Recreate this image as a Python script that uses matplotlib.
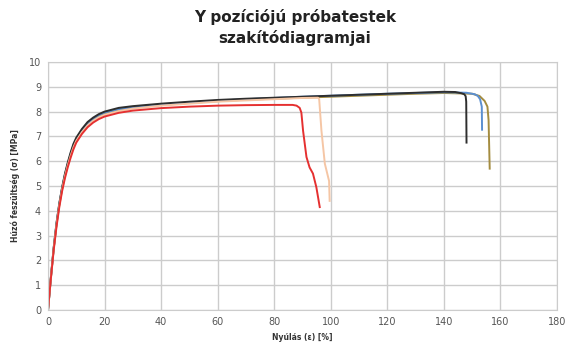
import matplotlib
matplotlib.use("Agg")
import matplotlib.pyplot as plt

# Data (strain %, stress MPa)
black_x = [0, 1, 2, 3, 4, 5, 6, 7, 8, 9, 10, 12, 14, 16, 18, 20, 25, 30, 40, 50, 60, 70, 80, 90, 100, 110, 120, 130, 140, 144, 146.2, 147.2, 147.7, 147.9, 148.0]
black_y = [0, 1.3, 2.5, 3.5, 4.3, 4.95, 5.5, 5.95, 6.35, 6.7, 6.95, 7.3, 7.58, 7.76, 7.9, 8.0, 8.15, 8.22, 8.32, 8.4, 8.47, 8.52, 8.56, 8.6, 8.64, 8.68, 8.72, 8.76, 8.8, 8.79, 8.74, 8.7, 8.62, 8.4, 6.75]

blue_x = [0, 1, 2, 3, 4, 5, 6, 7, 8, 9, 10, 12, 14, 16, 18, 20, 25, 30, 40, 50, 60, 70, 80, 90, 100, 110, 120, 130, 140, 148, 150.9, 152.0, 152.8, 153.4, 153.5]
blue_y = [0, 1.28, 2.48, 3.48, 4.28, 4.92, 5.46, 5.9, 6.3, 6.65, 6.9, 7.26, 7.53, 7.72, 7.86, 7.96, 8.1, 8.18, 8.29, 8.37, 8.44, 8.5, 8.55, 8.6, 8.64, 8.68, 8.72, 8.75, 8.78, 8.76, 8.7, 8.63, 8.5, 8.2, 7.27]

gold_x = [0, 1, 2, 3, 4, 5, 6, 7, 8, 9, 10, 12, 14, 16, 18, 20, 25, 30, 40, 50, 60, 70, 80, 90, 100, 110, 120, 130, 140, 150, 152.6, 154.4, 155.4, 155.8, 156.2]
gold_y = [0, 1.27, 2.46, 3.45, 4.25, 4.9, 5.43, 5.87, 6.26, 6.6, 6.85, 7.2, 7.48, 7.67, 7.82, 7.92, 8.07, 8.15, 8.27, 8.35, 8.42, 8.48, 8.52, 8.56, 8.6, 8.64, 8.68, 8.72, 8.75, 8.72, 8.63, 8.43, 8.2, 7.66, 5.7]

peach_x = [0, 1, 2, 3, 4, 5, 6, 7, 8, 9, 10, 12, 14, 16, 18, 20, 25, 30, 40, 50, 60, 70, 80, 90, 95.5, 95.9, 96.7, 97.9, 99.4, 99.6]
peach_y = [0, 1.27, 2.45, 3.43, 4.22, 4.87, 5.4, 5.84, 6.22, 6.56, 6.82, 7.17, 7.44, 7.63, 7.77, 7.87, 8.02, 8.12, 8.24, 8.32, 8.4, 8.45, 8.5, 8.55, 8.56, 8.5, 7.23, 5.9, 5.2, 4.4]

red_x = [0, 1, 2, 3, 4, 5, 6, 7, 8, 9, 10, 12, 14, 16, 18, 20, 25, 30, 40, 50, 60, 70, 80, 86.5, 87.9, 89.0, 89.6, 90.2, 91.4, 92.5, 93.7, 94.9, 96.1]
red_y = [0, 1.25, 2.4, 3.35, 4.15, 4.8, 5.32, 5.76, 6.14, 6.48, 6.75, 7.1, 7.37, 7.56, 7.7, 7.8, 7.95, 8.04, 8.14, 8.2, 8.24, 8.26, 8.27, 8.27, 8.24, 8.15, 7.96, 7.23, 6.17, 5.75, 5.5, 4.95, 4.15]

x_ticks = list(range(0, 181, 20))
y_ticks = list(range(0, 11))

fig = plt.figure(figsize=(5.66, 3.43), dpi=100)
ax = fig.add_axes([48/566, 1-310/343, (557-48)/566, (310-62)/343])

ax.plot(gold_x, gold_y, color='#a48c40', lw=1.4)
ax.plot(blue_x, blue_y, color='#5b8fd0', lw=1.4)
ax.plot(black_x, black_y, color='#2e2e2e', lw=1.4)
ax.plot(peach_x, peach_y, color='#f5c6a5', lw=1.4)
ax.plot(red_x, red_y, color='#e53030', lw=1.4)

ax.set_xlim(0, 180)
ax.set_ylim(0, 10)
ax.set_xticks(x_ticks)
ax.set_yticks(y_ticks)
ax.grid(True, color='#cccccc', lw=1.0)
ax.set_axisbelow(True)
for s in ax.spines.values():
    s.set_color('#cccccc')
ax.tick_params(length=0, labelsize=7, colors='#555555', pad=5)

ax.set_xlabel('Nyúlás (ε) [%]', fontsize=5.5, fontweight='bold', color='#333333', labelpad=4)
ax.set_ylabel('Húzó feszültség (σ) [MPa]', fontsize=5.5, fontweight='bold', color='#333333', labelpad=6)

fig.text(295/566, 1-17/343, 'Y pozíciójú próbatestek', ha='center', va='center', fontsize=11, fontweight='bold', color='#222222')
fig.text(295/566, 1-38/343, 'szakítódiagramjai', ha='center', va='center', fontsize=11, fontweight='bold', color='#222222')

fig.savefig('out.png', dpi=100)
